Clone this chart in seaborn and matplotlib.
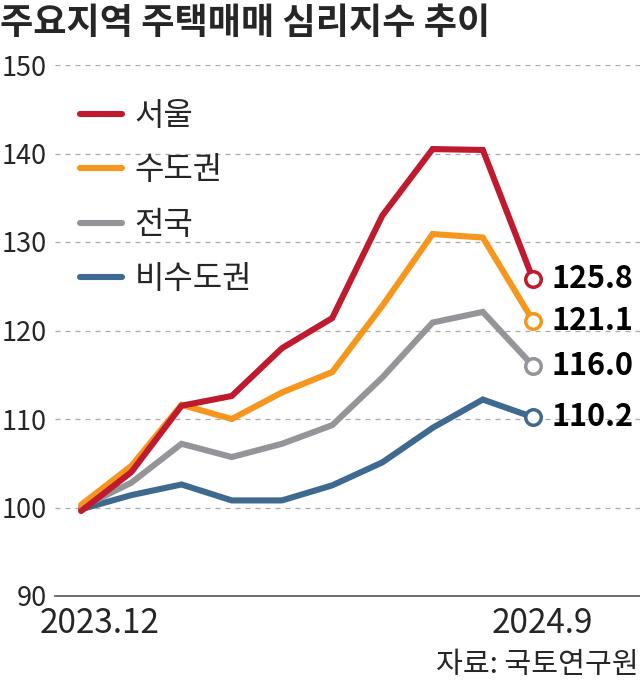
import matplotlib
matplotlib.use("Agg")
from matplotlib import pyplot as plt
import seaborn as sns
import numpy as np
import pandas as pd

# %%
months = ['2023.12', '2024.1', '2024.2', '2024.3', '2024.4', '2024.5',
          '2024.6', '2024.7', '2024.8', '2024.9']
regions = ['서울', '수도권', '전국', '비수도권']
seoul = [99.6, 104.0, 111.5, 112.6, 118.0, 121.4, 133.0, 140.5, 140.4, 125.8]
capital = [100.3, 104.7, 111.6, 110.0, 113.0, 115.3, 122.8, 130.9, 130.5, 121.1]
nation = [100.0, 102.8, 107.2, 105.7, 107.2, 109.3, 114.7, 120.9, 122.1, 116.0]
non_capital = [99.8, 101.4, 102.6, 100.8, 100.8, 102.5, 105.1, 109.0, 112.2, 110.2]
colors = ['#C01A2F', '#F7961D', '#939598', '#3F6A8F']

series = dict(zip(regions, [seoul, capital, nation, non_capital]))
df = pd.DataFrame(
    [(i, m, r, v) for r in regions for i, (m, v) in enumerate(zip(months, series[r]))],
    columns=['idx', 'month', 'region', 'value'],
)
palette = dict(zip(regions, colors))

# %%
sns.set_style('white')
plt.rcParams['font.family'] = ['Noto Sans CJK KR', 'DejaVu Sans']

fig = plt.figure(figsize=(6.4, 6.81), dpi=100)
ax = fig.add_axes([55 / 640, 1 - 596 / 681, 1 - 55 / 640, (596 - 65) / 681])

# draw back-to-front so 서울 sits on top
for r in regions[::-1]:
    sub = df[df['region'] == r]
    sns.lineplot(data=sub, x='idx', y='value', color=palette[r], lw=4.4,
                 ax=ax, solid_capstyle='round', solid_joinstyle='miter',
                 legend=False)
    last = sub.iloc[-1]
    ax.scatter([last['idx']], [last['value']], s=125, facecolor='white',
               edgecolor=palette[r], linewidth=2.5, zorder=5)
    ax.annotate(f"{last['value']:.1f}", (last['idx'], last['value']),
                xytext=(13, 0), textcoords='offset points', va='center',
                ha='left', fontsize=22, fontweight='bold', color='black')

ax.set_xlim(-0.52, 11.13)
ax.set_ylim(90, 150)
ax.set_yticks(np.arange(90, 151, 10))
ax.set_yticklabels([str(v) for v in range(90, 151, 10)], fontsize=19.5)
ax.set_xticks(range(len(months)))
ax.set_xticklabels([])
ax.tick_params(axis='x', direction='in', length=9, width=1.2, color='#555555')
ax.tick_params(axis='y', length=0, pad=6)
for v in range(100, 151, 10):
    ax.axhline(v, color='#AAAAAA', lw=0.9, ls=(0, (4, 4)), zorder=0)
for s in ['top', 'right', 'left']:
    ax.spines[s].set_visible(False)
ax.spines['bottom'].set_color('#555555')
ax.spines['bottom'].set_linewidth(1.2)
ax.set_xlabel('')
ax.set_ylabel('')

# x labels only at the ends
ax.annotate(months[0], (0, 0), xycoords=('data', 'axes fraction'),
            xytext=(-30, -7), textcoords='offset points', ha='left', va='top',
            fontsize=24)
ax.annotate(months[-1], (len(months) - 1, 0), xycoords=('data', 'axes fraction'),
            xytext=(43, -7), textcoords='offset points', ha='right', va='top',
            fontsize=24)

handles = [plt.Line2D([], [], color=c, lw=4.4, solid_capstyle='round') for c in colors]
ax.legend(handles, regions, loc='upper left', bbox_to_anchor=(80 / 640, 1 - 100 / 681),
          bbox_transform=fig.transFigure, frameon=False, fontsize=23,
          handlelength=1.3, handletextpad=0.4, labelspacing=0.7, borderpad=0,
          borderaxespad=0)

fig.text(0.0, 0.993, '주요지역 주택매매 심리지수 추이', ha='left', va='top',
         fontsize=26, fontweight='black')
fig.text(0.998, 0.002, '자료: 국토연구원', ha='right', va='bottom', fontsize=21)

fig.savefig('out.png', dpi=100)
